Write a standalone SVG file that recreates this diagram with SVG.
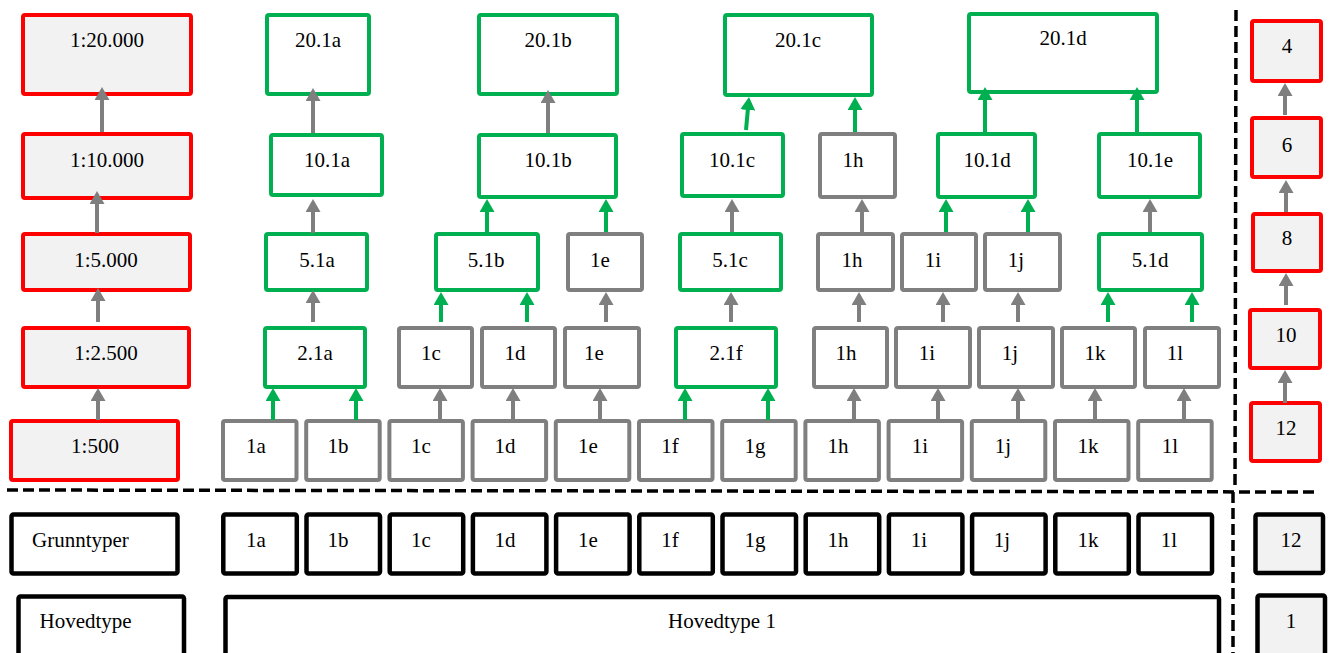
<svg xmlns="http://www.w3.org/2000/svg" width="1330" height="653" viewBox="0 0 1330 653">
<style>
rect{stroke-width:4}
.red{fill:#f2f2f2;stroke:#ff0000}
.grn{fill:#ffffff;stroke:#00b050}
.gry{fill:#ffffff;stroke:#7f7f7f}
.blk{fill:#ffffff;stroke:#000000;stroke-width:4.5}
.blkg{fill:#f2f2f2;stroke:#000000;stroke-width:4.5}
text{font-family:"Liberation Serif","Times New Roman",serif;font-size:21px;fill:#000;text-anchor:middle}
.st{text-anchor:start}
.cg{stroke:#7f7f7f;stroke-width:4;fill:none;marker-end:url(#ag)}
.cn{stroke:#00b050;stroke-width:4;fill:none;marker-end:url(#an)}
.dash{stroke:#000;stroke-width:3.5;stroke-dasharray:11 5;fill:none}
</style>
<defs>
<marker id="ag" viewBox="0 0 13 15" refX="2" refY="7.5" markerWidth="13" markerHeight="15" markerUnits="userSpaceOnUse" orient="auto"><path d="M0,0 L13,7.5 L0,15 z" fill="#7f7f7f"/></marker>
<marker id="an" viewBox="0 0 13 15" refX="2" refY="7.5" markerWidth="13" markerHeight="15" markerUnits="userSpaceOnUse" orient="auto"><path d="M0,0 L13,7.5 L0,15 z" fill="#00b050"/></marker>
</defs>
<rect x="0" y="0" width="1330" height="653" fill="#ffffff" style="stroke:none"/>

<g id="dividers">
<path class="dash" d="M7,490 L1315,492"/>
<path class="dash" d="M1236,10 L1235,490"/>
<path class="dash" d="M1233,492 L1233,653"/>
</g>

<!-- scale column -->
<g id="s20000"><rect class="red" x="23" y="15" width="168" height="79" rx="2"/><text x="107" y="47">1:20.000</text></g>
<g id="s10000"><rect class="red" x="23" y="134" width="168" height="64" rx="2"/><text x="107" y="167">1:10.000</text></g>
<g id="s5000"><rect class="red" x="23" y="234" width="167" height="56" rx="2"/><text x="106" y="267">1:5.000</text></g>
<g id="s2500"><rect class="red" x="23" y="328" width="166" height="59" rx="2"/><text x="106" y="360">1:2.500</text></g>
<g id="s500"><rect class="red" x="11" y="421" width="167" height="59" rx="2"/><text x="95" y="453">1:500</text></g>

<!-- level 20 -->
<g id="n20_1a"><rect class="grn" x="267" y="15" width="102" height="79" rx="2"/><text x="318" y="47">20.1a</text></g>
<g id="n20_1b"><rect class="grn" x="479" y="15" width="138" height="79" rx="2"/><text x="548" y="47">20.1b</text></g>
<g id="n20_1c"><rect class="grn" x="725" y="15" width="147" height="80" rx="2"/><text x="798" y="47">20.1c</text></g>
<g id="n20_1d"><rect class="grn" x="969" y="14" width="188" height="78" rx="2"/><text x="1063" y="45">20.1d</text></g>

<!-- level 10 -->
<g id="n10_1a"><rect class="grn" x="271" y="135" width="111" height="60" rx="2"/><text x="327" y="167">10.1a</text></g>
<g id="n10_1b"><rect class="grn" x="479" y="135" width="137" height="62" rx="2"/><text x="548" y="167">10.1b</text></g>
<g id="n10_1c"><rect class="grn" x="682" y="134" width="101" height="62" rx="2"/><text x="732" y="167">10.1c</text></g>
<g id="n10_1h"><rect class="gry" x="820" y="134" width="75" height="63" rx="2"/><text x="853" y="167">1h</text></g>
<g id="n10_1d"><rect class="grn" x="938" y="134" width="97" height="63" rx="2"/><text x="987" y="167">10.1d</text></g>
<g id="n10_1e"><rect class="grn" x="1099" y="134" width="101" height="63" rx="2"/><text x="1150" y="167">10.1e</text></g>

<!-- level 5 -->
<g id="n5_1a"><rect class="grn" x="266" y="234" width="101" height="56" rx="2"/><text x="317" y="267">5.1a</text></g>
<g id="n5_1b"><rect class="grn" x="436" y="234" width="102" height="56" rx="2"/><text x="486" y="267">5.1b</text></g>
<g id="n5_1e"><rect class="gry" x="568" y="234" width="74" height="56" rx="2"/><text x="600" y="267">1e</text></g>
<g id="n5_1c"><rect class="grn" x="680" y="234" width="101" height="56" rx="2"/><text x="730" y="267">5.1c</text></g>
<g id="n5_1h"><rect class="gry" x="818" y="234" width="75" height="56" rx="2"/><text x="852" y="267">1h</text></g>
<g id="n5_1i"><rect class="gry" x="902" y="234" width="74" height="56" rx="2"/><text x="933" y="267">1i</text></g>
<g id="n5_1j"><rect class="gry" x="985" y="234" width="75" height="56" rx="2"/><text x="1016" y="267">1j</text></g>
<g id="n5_1d"><rect class="grn" x="1099" y="234" width="103" height="56" rx="2"/><text x="1150" y="267">5.1d</text></g>

<!-- level 2.5 -->
<g id="n2_1a"><rect class="grn" x="265" y="328" width="100" height="59" rx="2"/><text x="315" y="360">2.1a</text></g>
<g id="n2_1c"><rect class="gry" x="399" y="328" width="73" height="59" rx="2"/><text x="431" y="360">1c</text></g>
<g id="n2_1d"><rect class="gry" x="482" y="328" width="73" height="59" rx="2"/><text x="515" y="360">1d</text></g>
<g id="n2_1e"><rect class="gry" x="565" y="328" width="74" height="59" rx="2"/><text x="594" y="360">1e</text></g>
<g id="n2_1f"><rect class="grn" x="676" y="328" width="100" height="59" rx="2"/><text x="726" y="360">2.1f</text></g>
<g id="n2_1h"><rect class="gry" x="814" y="328" width="73" height="59" rx="2"/><text x="846" y="360">1h</text></g>
<g id="n2_1i"><rect class="gry" x="896" y="328" width="74" height="59" rx="2"/><text x="927" y="360">1i</text></g>
<g id="n2_1j"><rect class="gry" x="979" y="328" width="74" height="59" rx="2"/><text x="1010" y="360">1j</text></g>
<g id="n2_1k"><rect class="gry" x="1062" y="328" width="73" height="59" rx="2"/><text x="1095" y="360">1k</text></g>
<g id="n2_1l"><rect class="gry" x="1145" y="328" width="74" height="59" rx="2"/><text x="1175" y="360">1l</text></g>

<!-- level 500 -->
<g id="b_1a"><rect class="gry" x="223" y="421" width="73.5" height="59" rx="2"/><text x="256" y="453">1a</text></g>
<g id="b_1b"><rect class="gry" x="306.2" y="421" width="73.5" height="59" rx="2"/><text x="338" y="453">1b</text></g>
<g id="b_1c"><rect class="gry" x="389.4" y="421" width="73.5" height="59" rx="2"/><text x="421" y="453">1c</text></g>
<g id="b_1d"><rect class="gry" x="472.6" y="421" width="73.5" height="59" rx="2"/><text x="505" y="453">1d</text></g>
<g id="b_1e"><rect class="gry" x="555.8" y="421" width="73.5" height="59" rx="2"/><text x="588" y="453">1e</text></g>
<g id="b_1f"><rect class="gry" x="639" y="421" width="73.5" height="59" rx="2"/><text x="670" y="453">1f</text></g>
<g id="b_1g"><rect class="gry" x="722.2" y="421" width="73.5" height="59" rx="2"/><text x="755" y="453">1g</text></g>
<g id="b_1h"><rect class="gry" x="805.4" y="421" width="73.5" height="59" rx="2"/><text x="838" y="453">1h</text></g>
<g id="b_1i"><rect class="gry" x="888.6" y="421" width="73.5" height="59" rx="2"/><text x="920" y="453">1i</text></g>
<g id="b_1j"><rect class="gry" x="971.8" y="421" width="73.5" height="59" rx="2"/><text x="1003" y="453">1j</text></g>
<g id="b_1k"><rect class="gry" x="1055" y="421" width="73.5" height="59" rx="2"/><text x="1088" y="453">1k</text></g>
<g id="b_1l"><rect class="gry" x="1138.2" y="421" width="73.5" height="59" rx="2"/><text x="1170" y="453">1l</text></g>

<!-- right column -->
<g id="r4"><rect class="red" x="1252" y="21" width="69" height="60" rx="2"/><text x="1287" y="53">4</text></g>
<g id="r6"><rect class="red" x="1252" y="118" width="69" height="59" rx="2"/><text x="1287" y="152">6</text></g>
<g id="r8"><rect class="red" x="1253" y="214" width="68" height="57" rx="2"/><text x="1287" y="245">8</text></g>
<g id="r10"><rect class="red" x="1250" y="310" width="70" height="58" rx="2"/><text x="1286" y="342">10</text></g>
<g id="r12"><rect class="red" x="1251" y="403" width="69" height="58" rx="2"/><text x="1286" y="435">12</text></g>

<!-- Grunntyper row -->
<g id="grunntyper"><rect class="blk" x="11.5" y="514.5" width="166" height="59" rx="2"/><text class="st" x="32" y="547">Grunntyper</text></g>
<g id="g_1a"><rect class="blk" x="223.3" y="514.5" width="73.5" height="59" rx="2"/><text x="256" y="547">1a</text></g>
<g id="g_1b"><rect class="blk" x="306.5" y="514.5" width="73.5" height="59" rx="2"/><text x="338" y="547">1b</text></g>
<g id="g_1c"><rect class="blk" x="389.7" y="514.5" width="73.5" height="59" rx="2"/><text x="421" y="547">1c</text></g>
<g id="g_1d"><rect class="blk" x="472.9" y="514.5" width="73.5" height="59" rx="2"/><text x="505" y="547">1d</text></g>
<g id="g_1e"><rect class="blk" x="556.1" y="514.5" width="73.5" height="59" rx="2"/><text x="588" y="547">1e</text></g>
<g id="g_1f"><rect class="blk" x="639.3" y="514.5" width="73.5" height="59" rx="2"/><text x="670" y="547">1f</text></g>
<g id="g_1g"><rect class="blk" x="722.5" y="514.5" width="73.5" height="59" rx="2"/><text x="755" y="547">1g</text></g>
<g id="g_1h"><rect class="blk" x="805.7" y="514.5" width="73.5" height="59" rx="2"/><text x="838" y="547">1h</text></g>
<g id="g_1i"><rect class="blk" x="888.9" y="514.5" width="73.5" height="59" rx="2"/><text x="919" y="547">1i</text></g>
<g id="g_1j"><rect class="blk" x="972.1" y="514.5" width="73.5" height="59" rx="2"/><text x="1002" y="547">1j</text></g>
<g id="g_1k"><rect class="blk" x="1055.3" y="514.5" width="73.5" height="59" rx="2"/><text x="1088" y="547">1k</text></g>
<g id="g_1l"><rect class="blk" x="1138.5" y="514.5" width="73.5" height="59" rx="2"/><text x="1169" y="547">1l</text></g>
<g id="g_12"><rect class="blkg" x="1255.5" y="514.5" width="67.5" height="58.5" rx="2"/><text x="1291" y="547">12</text></g>

<!-- Hovedtype row -->
<g id="hovedtype"><rect class="blk" x="18.5" y="596.5" width="165.5" height="70" rx="2"/><text class="st" x="39.5" y="628">Hovedtype</text></g>
<g id="hovedtype1"><rect class="blk" x="225.5" y="597" width="993.5" height="70" rx="2"/><text x="722" y="628">Hovedtype 1</text></g>
<g id="h_1"><rect class="blkg" x="1257.5" y="595.5" width="67.5" height="70" rx="2"/><text x="1291" y="628">1</text></g>

<g id="connectors">
<line class="cg" x1="102" y1="132" x2="102" y2="98"/>
<line class="cg" x1="97" y1="233" x2="97" y2="202"/>
<line class="cg" x1="98" y1="322" x2="98" y2="299"/>
<line class="cg" x1="98" y1="420" x2="98" y2="399"/>
<line class="cg" x1="313" y1="133" x2="313" y2="99"/>
<line class="cg" x1="313" y1="233" x2="313" y2="210"/>
<line class="cg" x1="313" y1="322" x2="313" y2="301"/>
<line class="cg" x1="548" y1="133" x2="548" y2="101"/>
<line class="cg" x1="606" y1="322" x2="606" y2="303"/>
<line class="cg" x1="731" y1="322" x2="731" y2="303"/>
<line class="cg" x1="440" y1="420" x2="440" y2="399"/>
<line class="cg" x1="513" y1="420" x2="513" y2="399"/>
<line class="cg" x1="600" y1="420" x2="600" y2="399"/>
<line class="cg" x1="854" y1="420" x2="854" y2="399"/>
<line class="cg" x1="859" y1="322" x2="859" y2="303"/>
<line class="cg" x1="938" y1="420" x2="938" y2="399"/>
<line class="cg" x1="1018" y1="420" x2="1018" y2="399"/>
<line class="cg" x1="1095" y1="420" x2="1095" y2="399"/>
<line class="cg" x1="1184" y1="420" x2="1184" y2="399"/>
<line class="cg" x1="943" y1="322" x2="943" y2="303"/>
<line class="cg" x1="1018" y1="322" x2="1018" y2="303"/>
<line class="cg" x1="732" y1="232" x2="732" y2="210"/>
<line class="cg" x1="862" y1="232" x2="862" y2="210"/>
<line class="cg" x1="1150" y1="232" x2="1150" y2="210"/>
<line class="cg" x1="1285" y1="115" x2="1285" y2="94"/>
<line class="cg" x1="1286" y1="212" x2="1286" y2="191"/>
<line class="cg" x1="1286" y1="305" x2="1286" y2="284"/>
<line class="cg" x1="1285" y1="403" x2="1285" y2="381"/>
<line class="cn" x1="273" y1="420" x2="273" y2="399"/>
<line class="cn" x1="356" y1="420" x2="356" y2="399"/>
<line class="cn" x1="487" y1="232" x2="487" y2="210"/>
<line class="cn" x1="606" y1="232" x2="606" y2="210"/>
<line class="cn" x1="441" y1="322" x2="441" y2="303"/>
<line class="cn" x1="527" y1="322" x2="527" y2="303"/>
<line class="cn" x1="685" y1="420" x2="685" y2="399"/>
<line class="cn" x1="768" y1="420" x2="768" y2="399"/>
<line class="cn" x1="1108" y1="322" x2="1108" y2="303"/>
<line class="cn" x1="1192" y1="322" x2="1192" y2="303"/>
<line class="cn" x1="746" y1="130" x2="748" y2="108"/>
<line class="cn" x1="855" y1="132" x2="855" y2="108"/>
<line class="cn" x1="985" y1="132" x2="985" y2="98"/>
<line class="cn" x1="1137" y1="132" x2="1137" y2="98"/>
<line class="cn" x1="946" y1="232" x2="946" y2="210"/>
<line class="cn" x1="1028" y1="232" x2="1028" y2="210"/>
</g>
</svg>
